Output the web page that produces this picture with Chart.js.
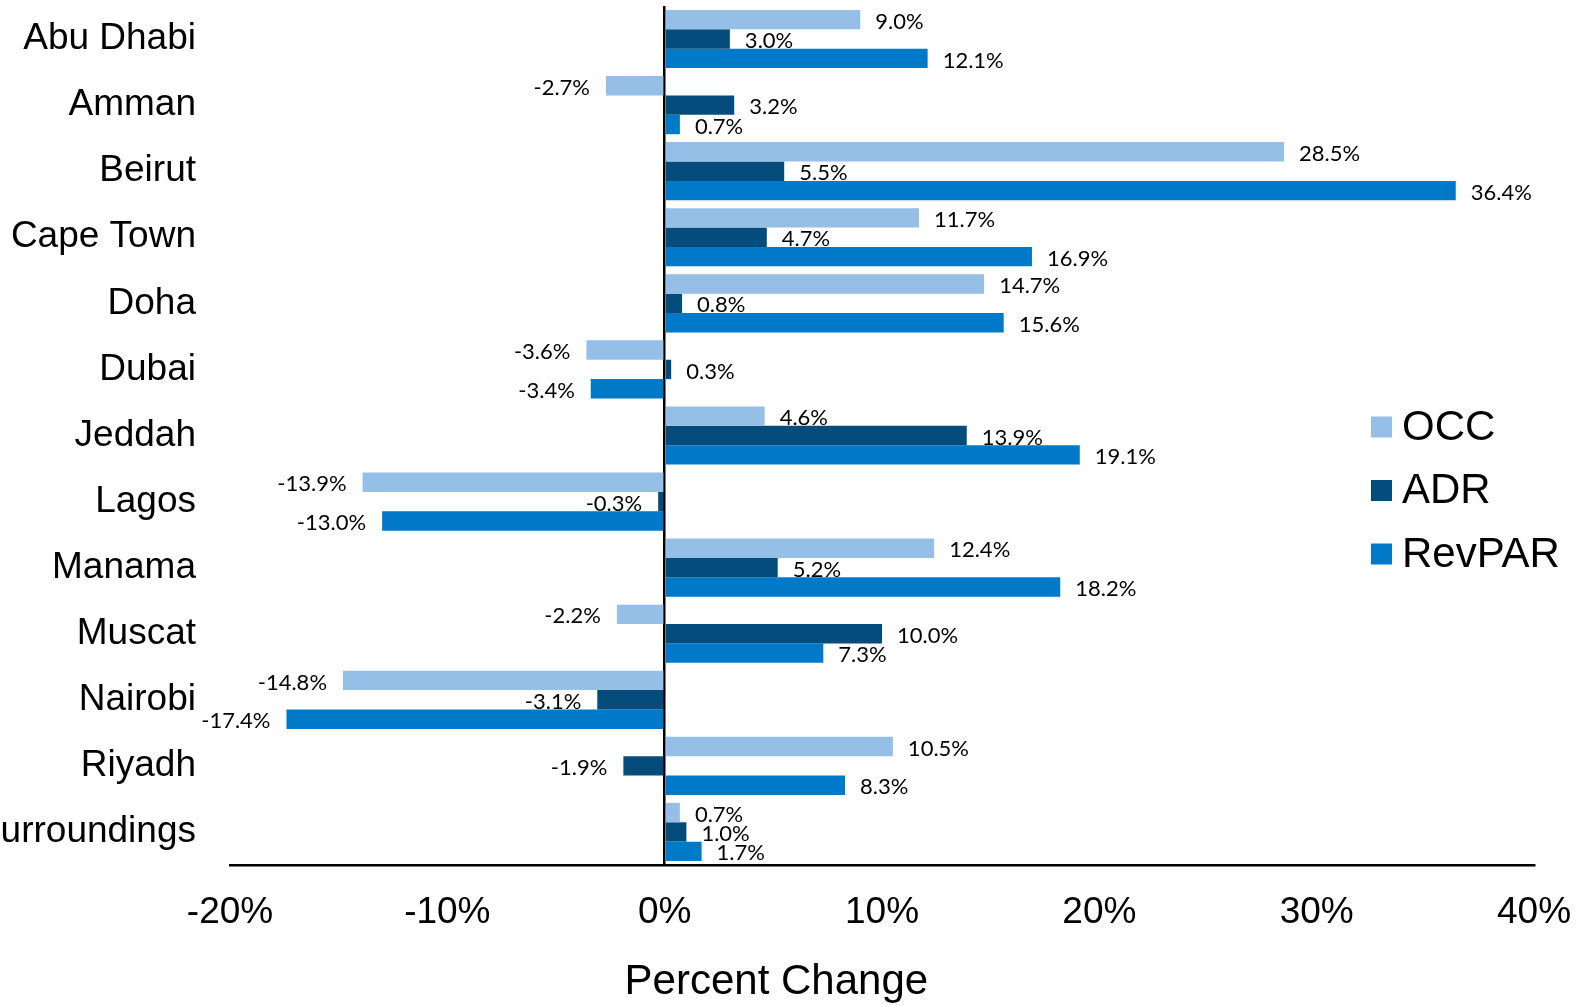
<!DOCTYPE html>
<html>
<head>
<meta charset="utf-8">
<script src="https://cdn.jsdelivr.net/npm/chart.js@4"></script>
<style>
  html, body { margin: 0; padding: 0; background: #fff; }
  #wrap { width: 1590px; height: 1006px; }
</style>
</head>
<body>
<div id="wrap"><canvas id="c" width="1590" height="1006"></canvas></div>
<script>
const categories = ["Abu Dhabi", "Amman", "Beirut", "Cape Town", "Doha", "Dubai", "Jeddah", "Lagos", "Manama", "Muscat", "Nairobi", "Riyadh", "Surroundings"];
const occValues    = [9.0, -2.7, 28.5, 11.7, 14.7, -3.6, 4.6, -13.9, 12.4, -2.2, -14.8, 10.5, 0.7];
const adrValues    = [3.0, 3.2, 5.5, 4.7, 0.8, 0.3, 13.9, -0.3, 5.2, 10.0, -3.1, -1.9, 1.0];
const revparValues = [12.1, 0.7, 36.4, 16.9, 15.6, -3.4, 19.1, -13.0, 18.2, 7.3, -17.4, 8.3, 1.7];
const seriesNames  = ["OCC", "ADR", "RevPAR"];
const seriesColors = ["#95BFE6", "#034C7B", "#0079C9"];
const xTicks = [-20, -10, 0, 10, 20, 30, 40];
const axisTitle = "Percent Change";

const LABEL_FONT = "Liberation Sans, Arial, sans-serif";

const valueLabels = {
  id: "valueLabels",
  afterDatasetsDraw(chart) {
    const ctx = chart.ctx;
    ctx.save();
    ctx.font = "22px Lato, 'Open Sans', sans-serif";
    ctx.fillStyle = "#000";
    ctx.textBaseline = "middle";
    chart.data.datasets.forEach((ds, di) => {
      const meta = chart.getDatasetMeta(di);
      meta.data.forEach((el, i) => {
        const v = ds.data[i];
        const txt = v.toFixed(1) + "%";
        if (v >= 0) {
          ctx.textAlign = "left";
          ctx.fillText(txt, el.x + 15, el.y + 2);
        } else {
          ctx.textAlign = "right";
          ctx.fillText(txt, el.x - 16, el.y + 2);
        }
      });
    });
    ctx.restore();
  }
};

const customLegend = {
  id: "customLegend",
  afterDraw(chart) {
    const ctx = chart.ctx;
    const xs = chart.scales.x;
    ctx.save();
    ctx.font = "42px " + LABEL_FONT;
    ctx.textBaseline = "middle";
    ctx.textAlign = "left";
    const boxX = chart.chartArea.right - 163;
    const y0 = 427, step = 63.5, box = 21;
    chart.data.datasets.forEach((ds, i) => {
      const y = y0 + i * step;
      ctx.fillStyle = ds.backgroundColor;
      ctx.fillRect(boxX, y - box / 2, box, box);
      ctx.fillStyle = "#000";
      ctx.fillText(ds.label, boxX + 31, y + 1);
    });
    // axis title
    ctx.font = "42px " + LABEL_FONT;
    ctx.textAlign = "center";
    ctx.fillText(axisTitle, xs.getPixelForValue(5) + 3, 982);
    ctx.restore();
  }
};

new Chart(document.getElementById("c"), {
  type: "bar",
  data: {
    labels: categories,
    datasets: [
      { label: seriesNames[0], data: occValues, backgroundColor: seriesColors[0] },
      { label: seriesNames[1], data: adrValues, backgroundColor: seriesColors[1] },
      { label: seriesNames[2], data: revparValues, backgroundColor: seriesColors[2] }
    ]
  },
  options: {
    indexAxis: "y",
    responsive: false,
    animation: false,
    devicePixelRatio: 1,
    datasets: { bar: { categoryPercentage: 0.88, barPercentage: 1.0 } },
    layout: { padding: { left: 0, right: 56, top: 6, bottom: 0 } },
    plugins: { legend: { display: false }, tooltip: { enabled: false } },
    scales: {
      x: {
        type: "linear",
        min: -20, max: 40,
        afterBuildTicks(scale) { scale.ticks = xTicks.map(v => ({ value: v })); },
        afterFit(scale) { scale.height = 141; scale.paddingLeft = 0; scale.paddingRight = 0; },
        ticks: {
          padding: 26,
          color: "#000",
          font: { family: LABEL_FONT, size: 37 },
          callback: v => v + "%"
        },
        grid: {
          drawTicks: false,
          color: c => (c.tick && c.tick.value === 0) ? "#000" : "rgba(0,0,0,0)",
          lineWidth: 2.5
        },
        border: { display: true, color: "#000", width: 2.5 }
      },
      y: {
        afterFit(scale) { scale.width = 230; scale.paddingTop = 0; scale.paddingBottom = 0; },
        ticks: {
          padding: 34,
          color: "#000",
          autoSkip: false,
          font: { family: LABEL_FONT, size: 37, lineHeight: 1.3 }
        },
        grid: { display: false, drawTicks: false },
        border: { display: false }
      }
    }
  },
  plugins: [valueLabels, customLegend]
});
</script>
</body>
</html>
